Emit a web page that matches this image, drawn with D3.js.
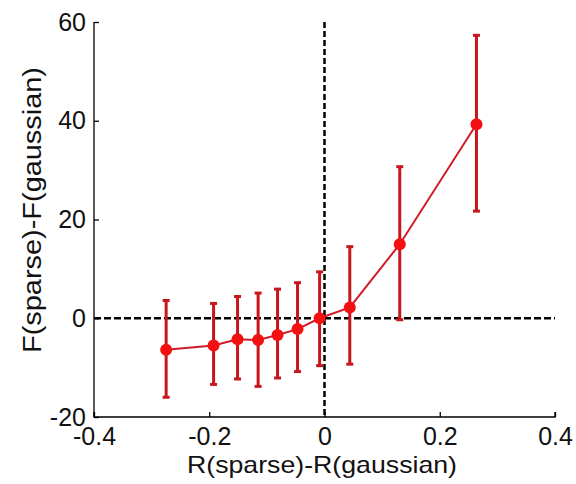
<!DOCTYPE html>
<html><head><meta charset="utf-8">
<script src="https://cdn.jsdelivr.net/npm/d3@7"></script>
<style>body{margin:0;background:#fff}svg{display:block}text{font-family:"Liberation Sans",Arial,sans-serif}</style>
</head><body><svg id="c" width="576" height="484"></svg>
<script>
const xVals = [-0.2748, -0.1925, -0.1509, -0.1152, -0.0815, -0.0468, -0.0085, 0.0439, 0.1306, 0.2637];
const yVals = [-6.4, -5.5, -4.25, -4.4, -3.4, -2.2, 0.0, 2.2, 15.0, 39.3];
const yUpper = [3.6, 3.0, 4.4, 5.1, 5.9, 7.2, 9.4, 14.5, 30.7, 57.3];
const yLower = [-16.0, -13.4, -12.3, -13.8, -12.1, -10.8, -9.6, -9.3, -0.3, 21.7];
const xTicks = [-0.4, -0.2, 0, 0.2, 0.4];
const yTicks = [-20, 0, 20, 40, 60];
const xLabel = "R(sparse)-R(gaussian)";
const yLabel = "F(sparse)-F(gaussian)";

const svg = d3.select("#c");
const x = d3.scaleLinear().domain([-0.4, 0.4]).range([94, 555]);
const y = d3.scaleLinear().domain([-20, 60]).range([417, 22]);
const data = xVals.map((v, i) => ({x: v, y: yVals[i], hi: yUpper[i], lo: yLower[i]}));
const fmt = d => String(d);

// axes
const xAxis = svg.append("g").attr("transform", `translate(0,${y(-20)})`)
  .call(d3.axisBottom(x).tickValues(xTicks).tickSize(-5).tickPadding(10).tickFormat(fmt));
const yAxis = svg.append("g").attr("transform", `translate(${x(-0.4)},0)`)
  .call(d3.axisLeft(y).tickValues(yTicks).tickSize(-5).tickPadding(8).tickFormat(fmt));
[xAxis, yAxis].forEach(a => {
  a.select(".domain").attr("stroke", "#000").attr("stroke-width", 1.3);
  a.selectAll(".tick line").attr("stroke", "#000").attr("stroke-width", 1.3);
  a.selectAll(".tick text").attr("font-size", 25).attr("fill", "#111");
});
xAxis.selectAll(".domain").attr("d", `M${x(-0.4)},-5V0H${x(0.4)}V-5`);
yAxis.selectAll(".domain").attr("d", `M0,${y(60)}V${y(-20)}`);

// reference dashed lines
svg.append("line").attr("x1", x(-0.4)).attr("x2", x(0.4)).attr("y1", y(0)).attr("y2", y(0))
  .attr("stroke", "#000").attr("stroke-width", 2.5).attr("stroke-dasharray", "7,3");
svg.append("line").attr("x1", x(0)).attr("x2", x(0)).attr("y1", y(60)).attr("y2", y(-20))
  .attr("stroke", "#000").attr("stroke-width", 2.5).attr("stroke-dasharray", "6,3");

// error bars
const eb = svg.append("g").attr("stroke", "#c8161e").attr("stroke-width", 3);
eb.selectAll("line.v").data(data).join("line").attr("class", "v")
  .attr("x1", d => x(d.x)).attr("x2", d => x(d.x)).attr("y1", d => y(d.hi)).attr("y2", d => y(d.lo));
eb.selectAll("line.t").data(data).join("line").attr("class", "t")
  .attr("x1", d => x(d.x) - 3.5).attr("x2", d => x(d.x) + 3.5).attr("y1", d => y(d.hi)).attr("y2", d => y(d.hi));
eb.selectAll("line.b").data(data).join("line").attr("class", "b")
  .attr("x1", d => x(d.x) - 3.5).attr("x2", d => x(d.x) + 3.5).attr("y1", d => y(d.lo)).attr("y2", d => y(d.lo));

// line
svg.append("path").datum(data).attr("fill", "none").attr("stroke", "#d01c26").attr("stroke-width", 2)
  .attr("d", d3.line().x(d => x(d.x)).y(d => y(d.y)));

// markers
svg.append("g").selectAll("circle").data(data).join("circle")
  .attr("cx", d => x(d.x)).attr("cy", d => y(d.y)).attr("r", 6).attr("fill", "#f41010");

// labels
svg.append("text").attr("x", 187).attr("y", 472.5)
  .attr("font-size", 24).attr("fill", "#111")
  .attr("textLength", 270).attr("lengthAdjust", "spacingAndGlyphs").text(xLabel);
svg.append("text").attr("transform", `translate(41,353) rotate(-90)`)
  .attr("font-size", 26).attr("fill", "#111")
  .attr("textLength", 286).attr("lengthAdjust", "spacingAndGlyphs").text(yLabel);
</script></body></html>
